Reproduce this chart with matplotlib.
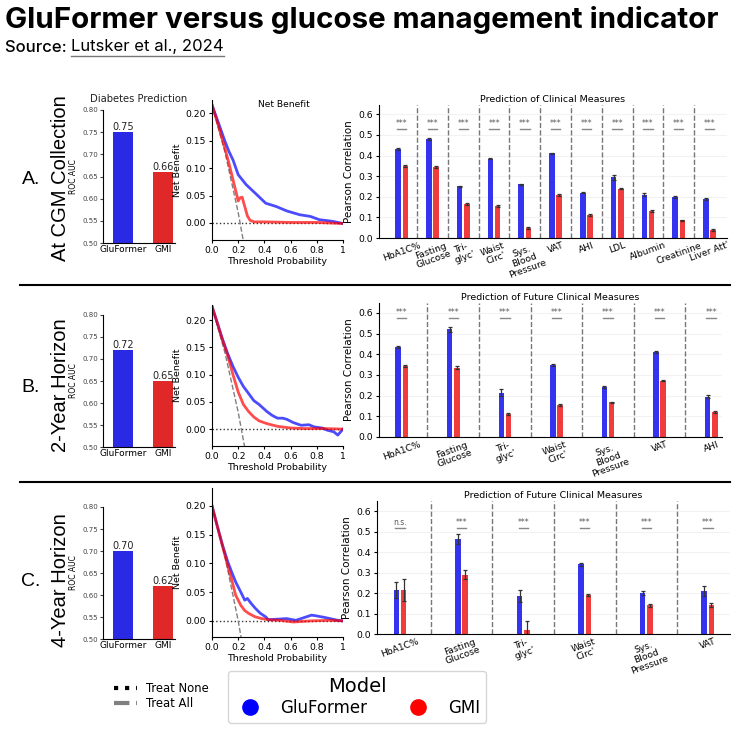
import matplotlib
matplotlib.use("Agg")
import matplotlib.pyplot as plt
from matplotlib.lines import Line2D
import numpy as np

# ---- diabetes prediction (ROC AUC) ----
auc_a = [0.75, 0.66]
auc_b = [0.72, 0.65]
auc_c = [0.70, 0.62]
auc_labels = ["GluFormer", "GMI"]

# ---- net benefit curves ----
nb_a_glu_t = [0, 0.03, 0.06, 0.1, 0.13, 0.16, 0.2, 0.26, 0.34, 0.41, 0.49, 0.57, 0.67, 0.75, 0.82, 0.92, 1.0]
nb_a_glu_v = [0.215, 0.195, 0.175, 0.148, 0.13, 0.115, 0.088, 0.07, 0.052, 0.036, 0.03, 0.022, 0.015,
              0.012, 0.006, 0.003, -0.001]
nb_a_gmi_t = [0, 0.03, 0.06, 0.1, 0.13, 0.16, 0.19, 0.2, 0.215, 0.23, 0.25, 0.27, 0.29, 0.32, 0.4, 0.6,
              0.8, 1.0]
nb_a_gmi_v = [0.215, 0.192, 0.168, 0.135, 0.108, 0.079, 0.05, 0.04, 0.046, 0.047, 0.03, 0.013, 0.005,
              0.002, 0.002, 0.001, 0.001, -0.001]
nb_a_all_t = [0, 0.1, 0.2, 0.25]
nb_a_all_v = [0.215, 0.128, 0.019, -0.047]

nb_b_glu_t = [0, 0.04, 0.08, 0.12, 0.16, 0.2, 0.24, 0.28, 0.32, 0.36, 0.42, 0.46, 0.5, 0.54, 0.57, 0.62,
              0.68, 0.74, 0.78, 0.84, 0.88, 0.93, 0.96, 1.0]
nb_b_glu_v = [0.225, 0.195, 0.165, 0.138, 0.115, 0.095, 0.078, 0.065, 0.052, 0.045, 0.032, 0.025, 0.02,
              0.02, 0.018, 0.012, 0.007, 0.008, 0.004, 0.002, -0.002, -0.005, -0.011, 0.0]
nb_b_gmi_t = [0, 0.04, 0.08, 0.12, 0.16, 0.2, 0.24, 0.28, 0.32, 0.36, 0.42, 0.5, 0.6, 0.7, 0.85, 1.0]
nb_b_gmi_v = [0.225, 0.195, 0.163, 0.135, 0.1, 0.068, 0.045, 0.032, 0.022, 0.015, 0.01, 0.005, 0.002,
              0.001, 0.001, 0.0]
nb_b_all_t = [0, 0.1, 0.2, 0.26]
nb_b_all_v = [0.225, 0.139, 0.031, -0.047]

nb_c_glu_t = [0, 0.04, 0.08, 0.12, 0.15, 0.18, 0.22, 0.25, 0.27, 0.3, 0.33, 0.37, 0.41, 0.43, 0.5, 0.57,
              0.64, 0.72, 0.76, 0.79, 0.86, 0.96, 1.0]
nb_c_glu_v = [0.2, 0.165, 0.132, 0.103, 0.085, 0.068, 0.05, 0.036, 0.039, 0.03, 0.022, 0.013, 0.007,
              0.002, 0.003, 0.004, 0.001, 0.007, 0.01, 0.009, 0.006, 0.001, 0.0]
nb_c_gmi_t = [0, 0.04, 0.08, 0.12, 0.15, 0.18, 0.22, 0.25, 0.28, 0.33, 0.38, 0.43, 0.52, 0.62, 0.75, 0.9, 1.0]
nb_c_gmi_v = [0.2, 0.165, 0.13, 0.096, 0.072, 0.045, 0.027, 0.018, 0.013, 0.007, 0.004, 0.002, 0.001,
              -0.002, 0.0, 0.001, 0.0]
nb_c_all_t = [0, 0.1, 0.2, 0.23]
nb_c_all_v = [0.2, 0.111, 0.0, -0.039]

# ---- clinical measures (Pearson r) ----
clin_a_labels = ["HbA1C%", "Fasting\nGlucose", "Tri-\nglyc'", "Waist\nCirc'", "Sys.\nBlood\nPressure",
                 "VAT", "AHI", "LDL", "Albumin", "Creatinine", "Liver Att'"]
clin_a_glu = [0.43, 0.48, 0.25, 0.385, 0.26, 0.41, 0.22, 0.295, 0.21, 0.20, 0.19]
clin_a_gmi = [0.35, 0.345, 0.165, 0.155, 0.05, 0.21, 0.11, 0.24, 0.13, 0.085, 0.04]
clin_a_glu_err = [0.005, 0.004, 0.004, 0.004, 0.004, 0.004, 0.004, 0.012, 0.007, 0.006, 0.004]
clin_a_gmi_err = [0.004, 0.004, 0.004, 0.004, 0.004, 0.004, 0.004, 0.004, 0.004, 0.004, 0.005]
clin_a_sig = ["***"] * 11

clin_b_labels = ["HbA1C%", "Fasting\nGlucose", "Tri-\nglyc'", "Waist\nCirc'", "Sys.\nBlood\nPressure", "VAT", "AHI"]
clin_b_glu = [0.435, 0.52, 0.215, 0.35, 0.24, 0.41, 0.195]
clin_b_gmi = [0.345, 0.335, 0.11, 0.155, 0.167, 0.272, 0.12]
clin_b_glu_err = [0.006, 0.01, 0.016, 0.005, 0.005, 0.004, 0.008]
clin_b_gmi_err = [0.005, 0.008, 0.005, 0.004, 0.003, 0.003, 0.004]
clin_b_sig = ["***"] * 7

clin_c_labels = ["HbA1C%", "Fasting\nGlucose", "Tri-\nglyc'", "Waist\nCirc'", "Sys.\nBlood\nPressure", "VAT"]
clin_c_glu = [0.215, 0.465, 0.185, 0.34, 0.20, 0.21]
clin_c_gmi = [0.215, 0.29, 0.02, 0.19, 0.14, 0.14]
clin_c_glu_err = [0.04, 0.025, 0.03, 0.007, 0.01, 0.025]
clin_c_gmi_err = [0.055, 0.02, 0.045, 0.007, 0.007, 0.01]
clin_c_sig = ["n.s.", "***", "***", "***", "***", "***"]

W, H = 749, 730
fig = plt.figure(figsize=(W / 100, H / 100), dpi=100)

BLUE = "#3434ee"
RED = "#f03c3c"


def px_axes(left, top, right, bottom):
    # axes from pixel box (origin top-left)
    return fig.add_axes([left / W, 1 - bottom / H, (right - left) / W, (bottom - top) / H])


def clean(ax):
    ax.spines["top"].set_visible(False)
    ax.spines["right"].set_visible(False)


def draw_auc(ax, values, title=None):
    ax.bar([0, 1], values, width=0.5, color=["#2a2ae4", "#e02828"])
    for x, v in zip([0, 1], values):
        ax.text(x, v, f"{v:.2f}", ha="center", va="bottom", fontsize=7, color="#222")
    ax.set_xlim(-0.5, 1.3)
    ax.set_ylim(0.5, 0.8)
    ax.set_xticks([0, 1], auc_labels, fontsize=6.5)
    ax.set_yticks(np.arange(0.5, 0.801, 0.05))
    ax.tick_params(axis="y", labelsize=5, length=2, pad=1.5, colors="#444")
    ax.tick_params(axis="x", length=0, pad=1.5)
    ax.set_ylabel("ROC AUC", fontsize=5.5, labelpad=3)
    clean(ax)
    if title:
        ax.set_title(title, fontsize=7.2, pad=6, color="#222")


def draw_nb(ax, gt, gv, mt, mv, at, av, ylim, title=None):
    ax.plot([0, 1], [0, 0], color="#333", ls=":", lw=1)
    ax.plot(at, av, color="gray", ls="--", lw=1)
    ax.plot(gt, gv, color="blue", lw=2, alpha=0.7)
    ax.plot(mt, mv, color="red", lw=2, alpha=0.7)
    ax.set_xlim(0, 1)
    ax.set_ylim(ylim)
    ax.set_xticks([0, 0.2, 0.4, 0.6, 0.8, 1], ["0.0", "0.2", "0.4", "0.6", "0.8", "1"])
    ax.set_yticks([0, 0.05, 0.1, 0.15, 0.2])
    ax.tick_params(labelsize=6.7, length=2.5, pad=2)
    ax.set_xlabel("Threshold Probability", fontsize=6.8, labelpad=1)
    ax.set_ylabel("Net Benefit", fontsize=6.8, labelpad=2)
    clean(ax)
    if title:
        ax.text(0.55, 0.97, title, transform=ax.transAxes, ha="center", va="center", fontsize=6.6)


def draw_clin(ax, labels, glu, gmi, glu_err, gmi_err, sig, sig_y, xlim, ytop, title):
    x = np.arange(len(labels))
    ax.set_xlim(xlim)
    ax.set_ylim(0, ytop)
    ppu = ax.get_position().width * W / (xlim[1] - xlim[0])
    bw = 5.5 / ppu
    off = 3.6 / ppu
    ek = dict(elinewidth=0.9, ecolor="#333", capthick=0.9)
    ax.bar(x - off, glu, bw, yerr=glu_err, color=BLUE, capsize=1.5, error_kw=ek)
    ax.bar(x + off, gmi, bw, yerr=gmi_err, color=RED, capsize=1.5, error_kw=ek)
    for i in range(len(labels) - 1):
        ax.axvline(i + 0.5, color="#777", ls="--", lw=1)
    for i, s in enumerate(sig):
        ax.plot([i - off * 1.3, i + off * 1.3], [sig_y, sig_y], color="#888", lw=1)
        ax.text(i, sig_y + 0.004, s, ha="center", va="bottom", fontsize=5.5, color="#555")
    ax.set_yticks(np.arange(0, 0.61, 0.1))
    ax.set_xticks(x, labels, rotation=20, fontsize=6.6, linespacing=1.0)
    ax.tick_params(axis="x", length=0, pad=2)
    ax.tick_params(axis="y", labelsize=6.7, length=2.5, pad=2)
    ax.yaxis.grid(True, color="#f2f2f2", lw=0.8)
    ax.set_axisbelow(True)
    ax.set_ylabel("Pearson Correlation", fontsize=7.5, labelpad=3)
    ax.set_title(title, fontsize=6.8, pad=2)
    clean(ax)


# row A
draw_auc(px_axes(103, 110, 175, 243), auc_a, "Diabetes Prediction")
draw_nb(px_axes(212, 100, 343, 240), nb_a_glu_t, nb_a_glu_v, nb_a_gmi_t, nb_a_gmi_v,
        nb_a_all_t, nb_a_all_v, (-0.031, 0.224), "Net Benefit")
draw_clin(px_axes(379, 105, 727, 238), clin_a_labels, clin_a_glu, clin_a_gmi,
          clin_a_glu_err, clin_a_gmi_err, clin_a_sig, 0.53, (-0.74, 10.57), 0.645,
          "Prediction of Clinical Measures")

# row B
draw_auc(px_axes(103, 315, 175, 447), auc_b)
draw_nb(px_axes(212, 305, 343, 446), nb_b_glu_t, nb_b_glu_v, nb_b_gmi_t, nb_b_gmi_v,
        nb_b_all_t, nb_b_all_v, (-0.031, 0.2275))
draw_clin(px_axes(379, 303, 722, 437), clin_b_labels, clin_b_glu, clin_b_gmi,
          clin_b_glu_err, clin_b_gmi_err, clin_b_sig, 0.575, (-0.44, 6.21), 0.648,
          "Prediction of Future Clinical Measures")

# row C
draw_auc(px_axes(103, 507, 175, 639), auc_c)
draw_nb(px_axes(212, 488, 343, 637), nb_c_glu_t, nb_c_glu_v, nb_c_gmi_t, nb_c_gmi_v,
        nb_c_all_t, nb_c_all_v, (-0.028, 0.231))
draw_clin(px_axes(377, 501, 730, 634), clin_c_labels, clin_c_glu, clin_c_gmi,
          clin_c_glu_err, clin_c_gmi_err, clin_c_sig, 0.517, (-0.375, 5.36), 0.649,
          "Prediction of Future Clinical Measures")

# row labels
row_font = ["Liberation Sans", "DejaVu Sans"]
for letter, name, y in [("A.", "At CGM Collection", 178), ("B.", "2-Year Horizon", 385),
                        ("C.", "4-Year Horizon", 580)]:
    fig.text(31 / W, 1 - (y + 2) / H, letter, fontsize=14, family=row_font, ha="center", va="center")
    fig.text(61 / W, 1 - y / H, name, fontsize=14.5, family=row_font, rotation=90,
             ha="center", va="center")

# row separators
for y in [285, 482]:
    fig.add_artist(Line2D([20 / W, 730 / W], [1 - y / H, 1 - y / H], color="black", lw=1.5))

# title and source
fig.text(5 / W, 1 - 20 / H, "GluFormer versus glucose management indicator", fontsize=21.3,
         weight="bold", family=["Inter", "DejaVu Sans"], va="center", ha="left")
src = fig.text(5 / W, 1 - 47 / H, "Source: ", fontsize=12, family=["Inter", "DejaVu Sans"],
               weight="medium", va="center", ha="left")
renderer = fig.canvas.get_renderer()
bb = src.get_window_extent(renderer)
ref = fig.text(bb.x1 / W, 1 - 47 / H, "Lutsker et al., 2024", fontsize=12,
               family=["Inter", "DejaVu Sans"], va="center", ha="left")
bb2 = ref.get_window_extent(renderer)
fig.add_artist(Line2D([bb2.x0 / W, bb2.x1 / W], [(bb2.y0 - 1) / H, (bb2.y0 - 1) / H],
                      color="#777", lw=1))

# legends
treat_handles = [Line2D([], [], color="black", ls=":", lw=3),
                 Line2D([], [], color="gray", ls="--", lw=3)]
fig.legend(treat_handles, ["Treat None", "Treat All"], loc="center left",
           bbox_to_anchor=(103 / W, 1 - 696 / H), frameon=False, fontsize=8.4,
           handlelength=2.0, labelspacing=0.15, handletextpad=0.8)

model_handles = [Line2D([], [], marker="o", ls="none", markerfacecolor="blue", markeredgecolor="blue",
                        markersize=11),
                 Line2D([], [], marker="o", ls="none", markerfacecolor="red", markeredgecolor="red",
                        markersize=11)]
fig.legend(model_handles, ["GluFormer", "GMI"], title="Model", ncol=2, loc="center",
           bbox_to_anchor=(357 / W, 1 - 697 / H), fontsize=12, title_fontsize=14,
           handletextpad=0.8, columnspacing=2.05, borderpad=0.35, labelspacing=0.2)

fig.savefig("out.png", dpi=100)
